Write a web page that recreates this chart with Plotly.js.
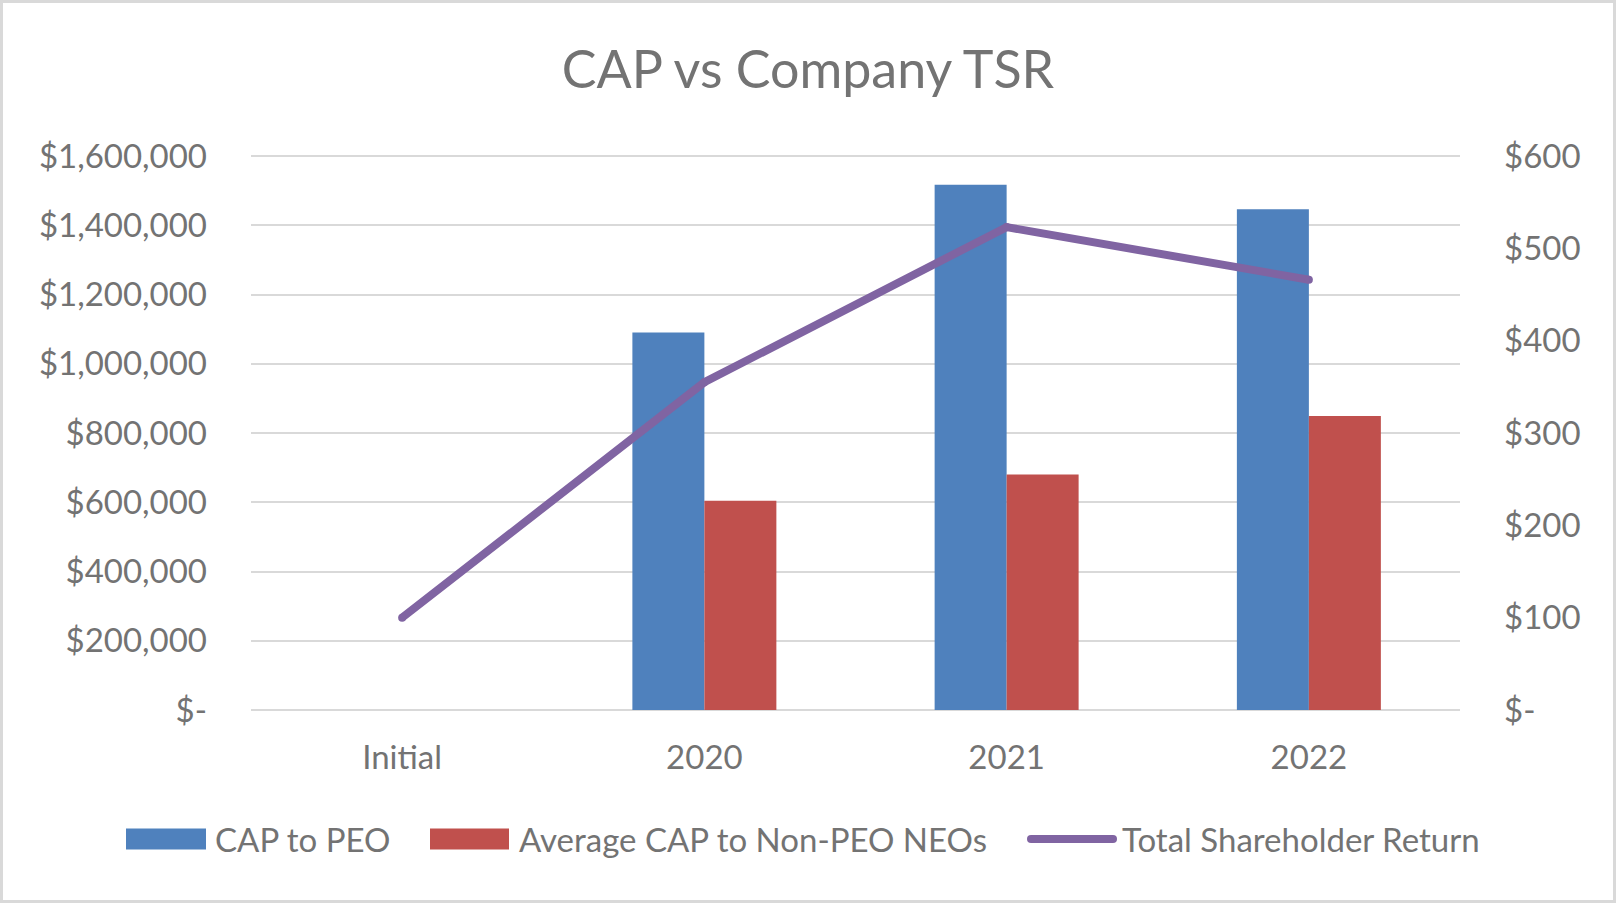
<!DOCTYPE html>
<html>
<head>
<meta charset="utf-8">
<script src="https://cdn.plot.ly/plotly-3.0.1.min.js"></script>
<style>
  html, body { margin: 0; padding: 0; background: #ffffff; }
  #frame { width: 1616px; height: 903px; box-sizing: border-box; border: 3px solid #d9d9d9; background: #ffffff; }
  #chart { width: 1610px; height: 897px; }
</style>
</head>
<body>
<div id="frame"><div id="chart"></div></div>
<script>
// ---- data ----
const categories = ["Initial", "2020", "2021", "2022"];
const capToPeo = [null, 1090000, 1517000, 1446000];
const avgCapNonPeo = [null, 604000, 680000, 849000];
const tsr = [100, 355, 523, 466];

const seriesNames = ["CAP to PEO", "Average CAP to Non-PEO NEOs", "Total Shareholder Return"];
const seriesColors = ["#4F81BD", "#C0504D", "#8064A2"];

const leftTickVals = [0, 200000, 400000, 600000, 800000, 1000000, 1200000, 1400000, 1600000];
const leftTickText = ["$-", "$200,000", "$400,000", "$600,000", "$800,000", "$1,000,000", "$1,200,000", "$1,400,000", "$1,600,000"];
const rightTickVals = [0, 100, 200, 300, 400, 500, 600];
const rightTickText = ["$-", "$100", "$200", "$300", "$400", "$500", "$600"];

const chartTitle = "CAP vs Company TSR";

// ---- layout helpers ----
const W = 1610, H = 897;
const EDGE = 3; // px of padding inside plot so edge gridlines are drawn
const M = { l: 248, r: 153, t: 153 - EDGE, b: 190 - EDGE };
const PW = W - M.l - M.r, PH = H - M.t - M.b;
const px2x = p => (p - M.l) / PW;
const py2y = p => (H - M.b - p) / PH;
const padRange = (lo, hi) => { const u = (hi - lo) / (PH - 2 * EDGE); return [lo - EDGE * u, hi + EDGE * u]; };

const textColor = "#737373";
const fontFam = "Lato, 'Open Sans', sans-serif";

const traces = [
  { type: "bar", name: seriesNames[0], x: categories, y: capToPeo, marker: { color: seriesColors[0] }, showlegend: false },
  { type: "bar", name: seriesNames[1], x: categories, y: avgCapNonPeo, marker: { color: seriesColors[1] }, showlegend: false },
  { type: "scatter", mode: "lines+markers", name: seriesNames[2], x: categories, y: tsr, yaxis: "y2", line: { color: seriesColors[2], width: 8 }, marker: { color: seriesColors[2], size: 8, line: { width: 0 } }, showlegend: false }
];

// custom legend (swatches + labels)
const legY = 836;
const legend = [
  { kind: "rect", x0: 123, x1: 203, label: 210, color: seriesColors[0], name: seriesNames[0] },
  { kind: "rect", x0: 427, x1: 506, label: 514, color: seriesColors[1], name: seriesNames[1] },
  { kind: "line", x0: 1028, x1: 1110, label: 1117, color: seriesColors[2], name: seriesNames[2] }
];
const shapes = [];
const annotations = [];
legend.forEach(it => {
  if (it.kind === "rect") {
    shapes.push({ type: "rect", xref: "paper", yref: "paper", x0: px2x(it.x0), x1: px2x(it.x1), y0: py2y(legY - 10.5), y1: py2y(legY + 10.5), fillcolor: it.color, line: { width: 0 } });
  } else {
    shapes.push({ type: "line", xref: "paper", yref: "paper", x0: px2x(it.x0), x1: px2x(it.x1), y0: py2y(legY), y1: py2y(legY), line: { color: it.color, width: 8 } });
    [it.x0, it.x1].forEach(cx => {
      shapes.push({ type: "circle", xref: "paper", yref: "paper", xsizemode: "pixel", ysizemode: "pixel", xanchor: px2x(cx), yanchor: py2y(legY), x0: -4, x1: 4, y0: -4, y1: 4, fillcolor: it.color, line: { width: 0 } });
    });
  }
  annotations.push({ xref: "paper", yref: "paper", x: px2x(it.label), y: py2y(legY), xanchor: "left", yanchor: "middle", text: it.name, showarrow: false, font: { family: fontFam, size: 33, color: textColor } });
});

const layout = {
  width: W, height: H,
  margin: M,
  paper_bgcolor: "#ffffff", plot_bgcolor: "#ffffff",
  font: { family: fontFam, size: 33, color: textColor },
  title: { text: chartTitle, font: { family: fontFam, size: 52, color: textColor }, x: 0.5, xanchor: "center", xref: "container", y: 1 - 67 / H, yref: "container", yanchor: "middle" },
  barmode: "group",
  bargap: 0.5236,
  bargroupgap: 0,
  showlegend: false,
  xaxis: { type: "category", showgrid: false, zeroline: false, showline: false, ticks: "", ticklabelstandoff: 25 - EDGE, tickfont: { size: 33, color: textColor } },
  yaxis: { range: padRange(0, 1600000), tickvals: leftTickVals, ticktext: leftTickText, showgrid: true, gridcolor: "#d9d9d9", gridwidth: 2, zeroline: false, showline: false, ticks: "", ticklabelstandoff: 43, tickfont: { size: 33, color: textColor } },
  yaxis2: { overlaying: "y", side: "right", range: padRange(0, 600), tickvals: rightTickVals, ticktext: rightTickText, showgrid: false, zeroline: false, showline: false, ticks: "", ticklabelstandoff: 43, tickfont: { size: 33, color: textColor } },
  shapes: shapes,
  annotations: annotations
};

Plotly.newPlot("chart", traces, layout, { displayModeBar: false, staticPlot: true });
</script>
</body>
</html>
